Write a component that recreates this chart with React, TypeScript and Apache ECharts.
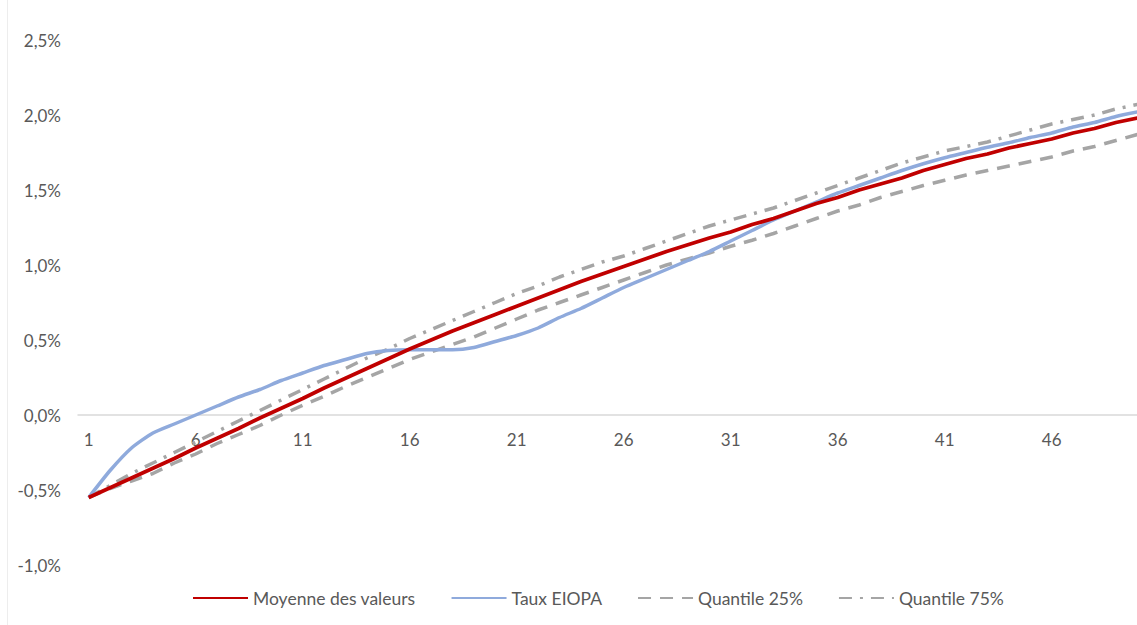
import React, { useEffect, useRef } from "react";
import * as echarts from "echarts";

// Maturities (years) 1..50
const maturities: string[] = Array.from({ length: 50 }, (_, i) => String(i + 1));

// Rates in percent
const moyenne: number[] = [
  -0.55, -0.485, -0.42, -0.355, -0.29, -0.22, -0.155, -0.09, -0.02, 0.045,
  0.11, 0.18, 0.245, 0.31, 0.375, 0.44, 0.5, 0.56, 0.615, 0.67,
  0.725, 0.78, 0.835, 0.89, 0.94, 0.99, 1.04, 1.09, 1.135, 1.18,
  1.22, 1.27, 1.31, 1.36, 1.41, 1.45, 1.5, 1.54, 1.58, 1.63,
  1.67, 1.71, 1.74, 1.78, 1.81, 1.84, 1.88, 1.91, 1.95, 1.98,
];

const eiopa: number[] = [
  -0.55, -0.37, -0.22, -0.12, -0.06, 0.0, 0.06, 0.12, 0.17, 0.23,
  0.28, 0.33, 0.37, 0.41, 0.43, 0.435, 0.435, 0.435, 0.45, 0.49,
  0.53, 0.58, 0.65, 0.71, 0.78, 0.85, 0.91, 0.97, 1.03, 1.09,
  1.16, 1.23, 1.3, 1.36, 1.42, 1.48, 1.53, 1.58, 1.63, 1.675,
  1.715, 1.75, 1.785, 1.815, 1.85, 1.88, 1.92, 1.95, 1.99, 2.02,
];

const quantile25: number[] = [
  -0.55, -0.49, -0.44, -0.39, -0.32, -0.26, -0.19, -0.13, -0.07, 0.0,
  0.065, 0.125, 0.19, 0.25, 0.31, 0.37, 0.42, 0.47, 0.52, 0.58,
  0.64, 0.7, 0.75, 0.8, 0.85, 0.9, 0.95, 1.0, 1.04, 1.08,
  1.125, 1.165, 1.21, 1.26, 1.31, 1.36, 1.4, 1.45, 1.49, 1.53,
  1.565, 1.6, 1.63, 1.66, 1.69, 1.72, 1.76, 1.79, 1.83, 1.87,
];

const quantile75: number[] = [
  -0.55, -0.47, -0.39, -0.32, -0.25, -0.18, -0.11, -0.04, 0.03, 0.1,
  0.17, 0.24, 0.31, 0.38, 0.44, 0.51, 0.57, 0.63, 0.69, 0.75,
  0.81, 0.86, 0.92, 0.97, 1.02, 1.06, 1.11, 1.16, 1.21, 1.26,
  1.3, 1.34, 1.38, 1.43, 1.48, 1.53, 1.58, 1.63, 1.68, 1.72,
  1.76, 1.79, 1.82, 1.86, 1.9, 1.94, 1.97, 2.0, 2.04, 2.07,
];

const seriesNames = ["Moyenne des valeurs", "Taux EIOPA", "Quantile 25%", "Quantile 75%"];

const Y_MIN = -1.0;
const Y_MAX = 2.5;

const FONT = "Lato, 'Open Sans', sans-serif";
const TEXT_COLOR = "#595959";

const VIEW_W = 1137;
const CHART_W = 1160; // the last category band runs past the visible edge
const CHART_H = 625;
const GRID_TOP = 40;
const GRID_BOTTOM = 60;

const fmtPct = (v: number) => v.toFixed(1).replace(".", ",") + "%";

export default function App() {
  const ref = useRef<HTMLDivElement>(null);

  useEffect(() => {
    document.body.style.margin = "0";
    if (!ref.current) return;
    const chart = echarts.init(ref.current, undefined, { renderer: "svg" });

    // Shift the category axis up so that it sits on the zero line
    const plotH = CHART_H - GRID_TOP - GRID_BOTTOM;
    const zeroOffset = -plotH * (0 - Y_MIN) / (Y_MAX - Y_MIN);

    chart.setOption({
      animation: false,
      backgroundColor: "#ffffff",
      textStyle: { fontFamily: FONT },
      grid: {
        left: 78,
        width: 1070,
        top: GRID_TOP,
        bottom: GRID_BOTTOM,
        containLabel: false,
        outerBoundsMode: "none",
      },
      xAxis: {
        type: "category",
        data: maturities,
        boundaryGap: true,
        position: "bottom",
        offset: zeroOffset,
        axisLine: { onZero: false, lineStyle: { color: "#D9D9D9", width: 1.5 } },
        axisTick: { show: false },
        axisLabel: {
          interval: 4,
          color: TEXT_COLOR,
          fontSize: 17,
          fontFamily: FONT,
          margin: 16,
        },
        splitLine: { show: false },
      },
      yAxis: {
        type: "value",
        min: Y_MIN,
        max: Y_MAX,
        interval: 0.5,
        axisLine: { show: false },
        axisTick: { show: false },
        splitLine: { show: false },
        axisLabel: {
          color: TEXT_COLOR,
          fontSize: 17,
          fontFamily: FONT,
          margin: 17,
          formatter: (v: number) => fmtPct(v),
        },
      },
      legend: {
        bottom: 13,
        left: 187,
        itemWidth: 55,
        itemHeight: 14,
        itemGap: 35,
        itemStyle: { opacity: 0 },
        textStyle: { color: TEXT_COLOR, fontSize: 17.5, fontFamily: FONT },
        data: seriesNames,
      },
      series: [
        {
          name: seriesNames[2],
          type: "line",
          data: quantile25,
          symbol: "none",
          lineStyle: { color: "#A5A5A5", width: 3.5, type: [13, 9] },
          itemStyle: { color: "#A5A5A5" },
          z: 2,
        },
        {
          name: seriesNames[3],
          type: "line",
          data: quantile75,
          symbol: "none",
          lineStyle: { color: "#A5A5A5", width: 3.5, type: [13, 8, 3, 8] },
          itemStyle: { color: "#A5A5A5" },
          z: 2,
        },
        {
          name: seriesNames[1],
          type: "line",
          data: eiopa,
          symbol: "none",
          smooth: 0.2,
          lineStyle: { color: "#8FAADC", width: 3.5 },
          itemStyle: { color: "#8FAADC" },
          z: 3,
        },
        {
          name: seriesNames[0],
          type: "line",
          data: moyenne,
          symbol: "none",
          lineStyle: { color: "#C00000", width: 3.8 },
          itemStyle: { color: "#C00000" },
          z: 4,
        },
      ],
      graphic: [
        {
          type: "line",
          shape: { x1: 7.5, y1: 0, x2: 7.5, y2: CHART_H },
          style: { stroke: "#EDEDED", lineWidth: 1 },
          silent: true,
        },
      ],
    });

    return () => chart.dispose();
  }, []);

  return (
    <div
      style={{
        position: "absolute",
        left: 0,
        top: 0,
        width: VIEW_W,
        height: CHART_H,
        overflow: "hidden",
      }}
    >
      <div ref={ref} style={{ width: CHART_W, height: CHART_H }} />
    </div>
  );
}
